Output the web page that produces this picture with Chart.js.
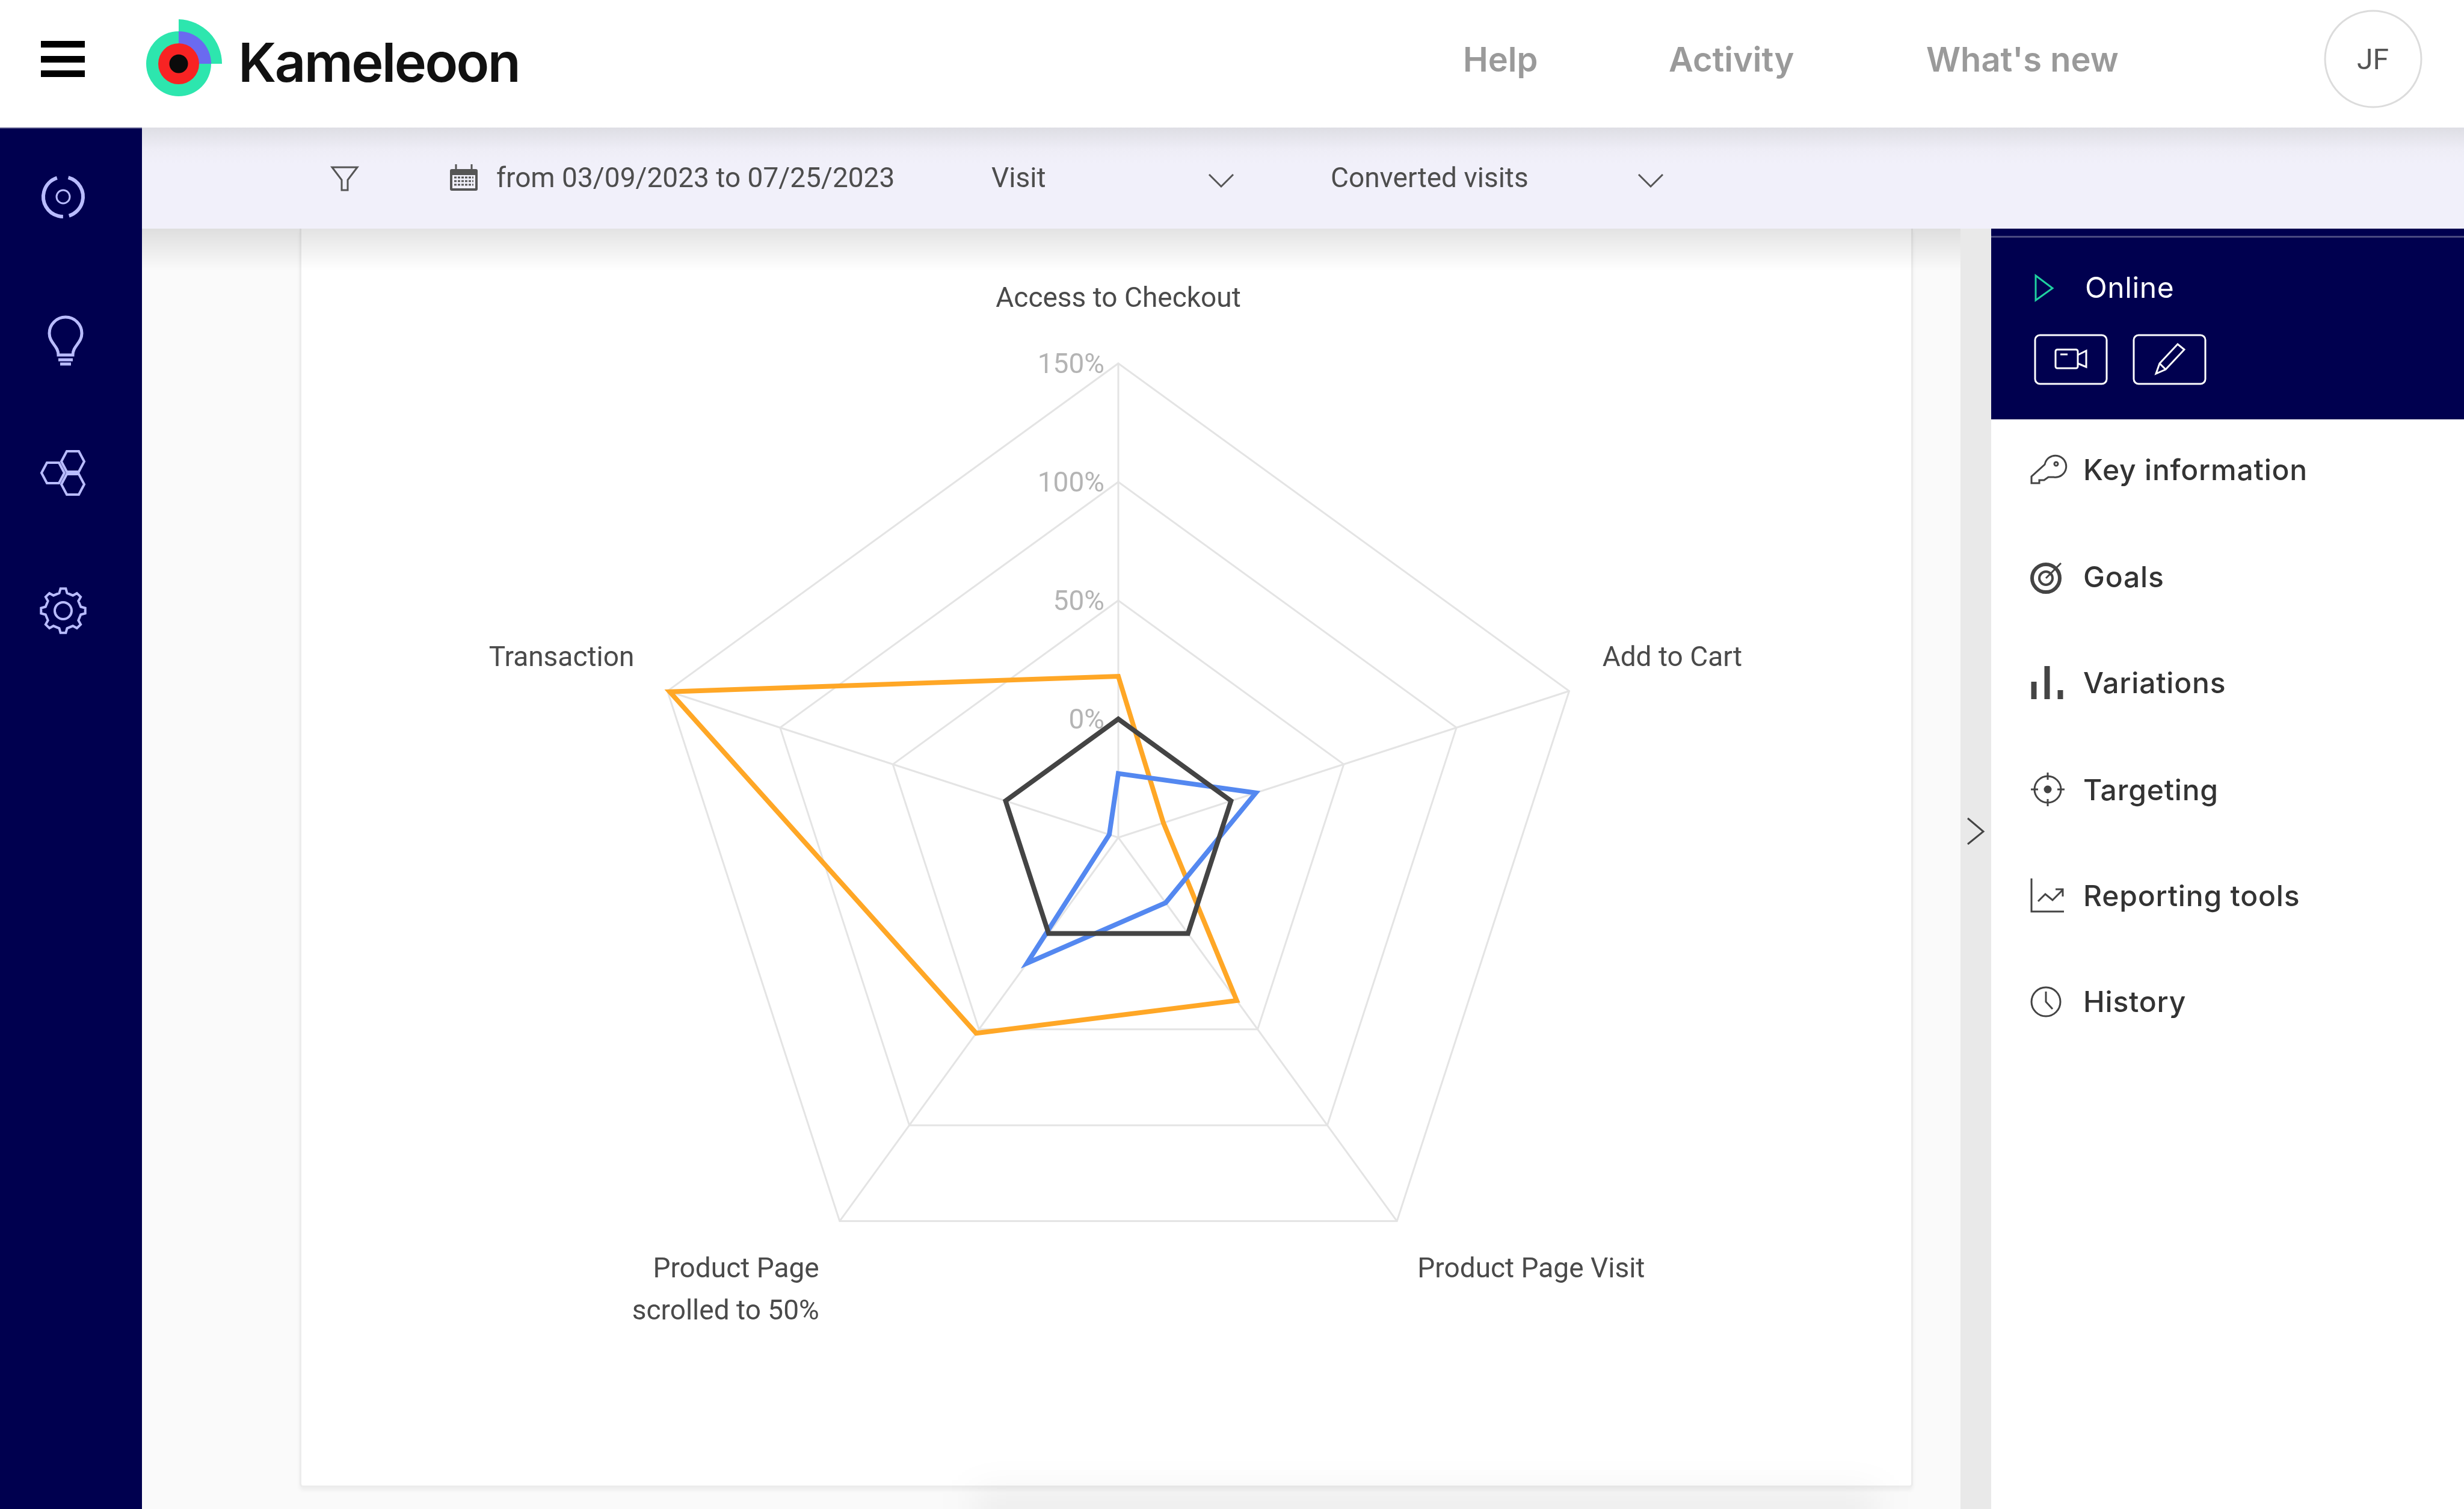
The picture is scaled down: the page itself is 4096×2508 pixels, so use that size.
<!DOCTYPE html>
<html>
<head>
<meta charset="utf-8">
<title>Kameleoon</title>
<script src="https://cdn.jsdelivr.net/npm/chart.js@4"></script>
<style>
  html, body { margin: 0; width: 4096px; height: 2508px; overflow: hidden; background: #fafafa; }
  .abs { position: absolute; }
  .t { position: absolute; white-space: nowrap; line-height: 1; transform: translateY(-50%); z-index: 6; }
  .nav { font: 600 56px Inter; color: #9a9a9a; }
  .filter { font: 46px Roboto; color: #4d4d4d; }
  .side { font: 500 48px Inter; letter-spacing: 0.8px; color: #333; left: 3463px; }
  #header { left: 0; top: 0; width: 4096px; height: 212px; background: #fff; }
  #bar { left: 236px; top: 212px; width: 3860px; height: 168px; background: linear-gradient(#dedee4, #eeedf6 36px, #f1f0fa 60px); }
  #barShadow { left: 236px; top: 380px; width: 3023px; height: 70px; background: linear-gradient(rgba(0,0,0,.11), rgba(0,0,0,0)); z-index: 3; }
  #nav { left: 0; top: 212px; width: 236px; height: 2296px; background: #00004f; border-top: 2px solid #4a4a80; box-sizing: border-box; }
  #card { left: 498px; top: 380px; width: 2682px; height: 2092px; background: #fff; border: 3px solid #ececec; border-top: 0; box-sizing: border-box; border-radius: 0 0 6px 6px; box-shadow: 0 5px 6px rgba(0,0,0,.05); }
  #strip { left: 3259px; top: 380px; width: 51px; height: 2128px; background: #e9e9e9; }
  #panel { left: 3310px; top: 380px; width: 786px; height: 2128px; background: #fff; }
  #online { left: 3310px; top: 380px; width: 786px; height: 317px; background: #00004f; }
  #onlineLine { left: 3310px; top: 392px; width: 786px; height: 3px; background: #4a4a80; }
  #fade { left: 1620px; top: 2480px; width: 1500px; height: 60px; background: rgba(0,0,0,.06); filter: blur(30px); }
  #radar { position: absolute; left: 542px; top: 400px; }
  #icons { position: absolute; left: 0; top: 0; z-index: 5; }
</style>
</head>
<body>
<div id="card" class="abs"></div>
<div id="fade" class="abs"></div>
<canvas id="radar" width="2635" height="1856"></canvas>
<div id="strip" class="abs"></div>
<div id="panel" class="abs"></div>
<div id="online" class="abs"></div>
<div id="onlineLine" class="abs"></div>
<div id="barShadow" class="abs"></div>
<div id="header" class="abs"></div>
<div id="bar" class="abs"></div>
<div id="nav" class="abs"></div>

<div class="t" style="left:396px;top:103px;font:600 90px Inter;letter-spacing:-2.6px;color:#111">Kameleoon</div>
<div class="t nav" style="left:2432px;top:99px">Help</div>
<div class="t nav" style="left:2774px;top:99px">Activity</div>
<div class="t nav" style="left:3202px;top:99px">What's new</div>
<div class="t" style="left:3918px;top:98px;font:48px Roboto;color:#555">JF</div>
<div class="t filter" style="left:825px;top:295px">from 03/09/2023 to 07/25/2023</div>
<div class="t filter" style="left:1648px;top:295px">Visit</div>
<div class="t filter" style="left:2212px;top:295px">Converted visits</div>
<div class="t" style="left:3466px;top:477px;font:400 48px Inter;letter-spacing:0.6px;color:#fff">Online</div>
<div class="t side" style="top:780px">Key information</div>
<div class="t side" style="top:958px">Goals</div>
<div class="t side" style="top:1134px">Variations</div>
<div class="t side" style="top:1312px">Targeting</div>
<div class="t side" style="top:1488px">Reporting tools</div>
<div class="t side" style="top:1664px">History</div>

<svg id="icons" width="4096" height="2508" fill="none">
  <!-- hamburger -->
  <rect x="68" y="68" width="73" height="11" fill="#000"/>
  <rect x="68" y="93" width="73" height="11" fill="#000"/>
  <rect x="68" y="117" width="73" height="11" fill="#000"/>
  <!-- logo -->
  <path d="M297 106V32A74 74 0 0 1 369 106Z" fill="#2de6ae"/>
  <circle cx="297" cy="106" r="54" fill="#2de6ae"/>
  <path d="M297 106V52A54 54 0 0 1 351 106Z" fill="#6a6af0"/>
  <circle cx="297" cy="106" r="34" fill="#f82323"/>
  <circle cx="297" cy="106" r="15.5" fill="#0b0b0b"/>
  <!-- user circle -->
  <circle cx="3945" cy="98" r="80" stroke="#dcdcdc" stroke-width="3"/>
  <!-- left nav -->
  <g stroke="#b9bcff">
    <circle cx="105" cy="327" r="33" stroke-width="6" stroke-dasharray="85 10 93 19" transform="rotate(-75 105 327)"/>
    <circle cx="105" cy="327" r="11" stroke-width="3"/>
    <g transform="translate(0 5)">
      <path d="M97 585C97 570 82 565 82 549A27 27 0 0 1 136 549C136 565 121 570 121 585Z" stroke-width="5"/>
      <path d="M97 593H121M100 600H118" stroke-width="5"/>
    </g>
    <path d="M69 786L78 769H98L107 786L98 803H78Z M102 767L111 750H131L140 767L131 784H111Z M102 805L111 788H131L140 805L131 822H111Z" stroke-width="4"/>
    <path id="gear" stroke-width="4"/>
    <circle cx="105" cy="1015" r="14" stroke-width="4"/>
  </g>
  <!-- filter bar -->
  <g stroke="#555" stroke-width="3">
    <path d="M552 278H594L578 299V316H568V299Z"/>
    <path d="M2010 290L2030 310L2050 290M2724 290L2744 310L2764 290"/>
  </g>
  <rect x="748" y="281" width="46" height="36" fill="#555" rx="3"/>
  <rect x="752" y="291" width="38" height="22" fill="#f1f0fa"/>
  <path d="M755 295H787M755 301H787M755 307H787" stroke="#555" stroke-width="3" stroke-dasharray="4 2"/>
  <path d="M758 273V285M784 273V285" stroke="#555" stroke-width="3"/>
  <!-- online panel -->
  <path d="M3384 458V499L3412 479Z" stroke="#1fd1a0" stroke-width="3"/>
  <g stroke="#fff" stroke-width="3">
    <rect x="3383" y="557" width="119" height="81" rx="8"/>
    <rect x="3547" y="557" width="119" height="81" rx="8"/>
    <rect x="3417" y="581" width="37" height="31" rx="3"/>
    <path d="M3454 590L3468 583V610L3454 604M3425 589H3437"/>
    <path d="M3584 621L3590 604L3620 572L3631 581L3600 614Z M3590 604L3600 614"/>
  </g>
  <!-- right menu -->
  <g stroke="#444" stroke-width="3">
    <path d="M3377 803V792L3399 772A18 18 0 1 1 3414 793H3405L3398 798H3390V803Z"/>
    <circle cx="3418" cy="771" r="3"/>
    <circle cx="3401" cy="961" r="23" stroke-width="6"/>
    <circle cx="3401" cy="961" r="11" stroke-width="4"/>
    <path d="M3401 961L3426 936" stroke-width="3"/>
    <path d="M3381 1162V1133M3403 1162V1107M3425 1162V1147" stroke-width="9"/>
    <circle cx="3404" cy="1312" r="22"/>
    <path d="M3404 1284V1296M3404 1328V1340M3376 1312H3388M3420 1312H3432"/>
    <circle cx="3404" cy="1312" r="5" fill="#444"/>
    <path d="M3377 1460V1515H3431M3388 1498L3400 1486L3412 1496L3428 1480M3417 1478H3429V1490"/>
    <circle cx="3401" cy="1665" r="24"/>
    <path d="M3401 1648V1665L3412 1677"/>
    <path d="M3271 1360L3297 1382L3271 1403"/>
  </g>
</svg>

<script>
// gear outline for the left nav, 8 teeth
let gear = "";
for (let i = 0; i < 8; i++) {
  for (const [r, a] of [[30, -0.22], [37, -0.12], [37, 0.12], [30, 0.22]]) {
    const ang = (i * Math.PI) / 4 + a;
    gear += (gear ? "L" : "M") + (105 + r * Math.cos(ang)).toFixed(1) + " " + (1015 + r * Math.sin(ang)).toFixed(1);
  }
}
document.getElementById("gear").setAttribute("d", gear + "Z");

const goals = [
  "Access to Checkout",
  "Add to Cart",
  "Product Page Visit",
  ["Product Page", "scrolled to 50%"],
  "Transaction",
];
const referenceValues = [0, 0, 0, 0, 0];
const blueValues = [-23, 11, -16, 15.5, -46];
const orangeValues = [18, -30, 35, 52, 149];
const tickValues = [0, 50, 100, 150];
const tickLabels = ["0%", "50%", "100%", "150%"];

// tick labels sit left of the first spoke and under the lines
const leftTicks = {
  id: "leftTicks",
  beforeDatasetsDraw(chart) {
    const scale = chart.scales.r;
    const ctx = chart.ctx;
    ctx.save();
    ctx.font = "46px Roboto";
    ctx.fillStyle = "#b4b4b4";
    ctx.textAlign = "right";
    ctx.textBaseline = "middle";
    scale.ticks.forEach((tick) => {
      if (!tick.label) return;
      const pos = scale.getPointPositionForValue(0, tick.value);
      ctx.fillText(tick.label, pos.x - 23, pos.y + 5);
    });
    ctx.restore();
  },
};

new Chart(document.getElementById("radar"), {
  type: "radar",
  data: {
    labels: goals,
    datasets: [
      { label: "Reference", data: referenceValues, borderColor: "#444444" },
      { label: "Blue", data: blueValues, borderColor: "#5488f0" },
      { label: "Orange", data: orangeValues, borderColor: "#ffa726" },
    ],
  },
  options: {
    responsive: false,
    animation: false,
    elements: {
      line: { borderWidth: 8, fill: false, tension: 0, borderJoinStyle: "miter" },
      point: { radius: 0, hoverRadius: 0 },
    },
    plugins: { legend: { display: false }, tooltip: { enabled: false } },
    scales: {
      r: {
        min: -50,
        max: 150,
        ticks: {
          stepSize: 50,
          display: false,
          callback: (v) => tickLabels[tickValues.indexOf(v)] || "",
        },
        grid: { color: "#e4e4e4", lineWidth: 3 },
        angleLines: { color: "#e4e4e4", lineWidth: 3 },
        pointLabels: {
          color: "#4a4a4a",
          font: { family: "Roboto", size: 46, lineHeight: 1.52 },
          padding: (ctx) => (ctx.index === 0 ? 70 : 58),
        },
      },
    },
  },
  plugins: [leftTicks],
});
</script>
</body>
</html>
